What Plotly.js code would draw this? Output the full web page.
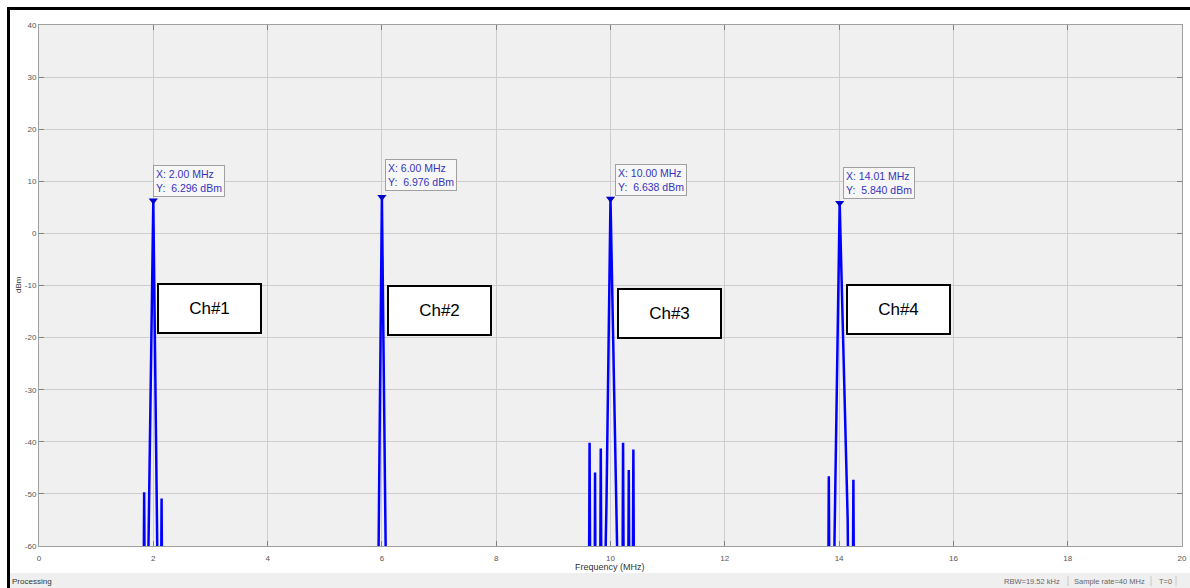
<!DOCTYPE html>
<html>
<head>
<meta charset="utf-8">
<script src="https://cdn.plot.ly/plotly-3.0.1.min.js"></script>
<style>html,body{margin:0;padding:0;background:#fff;}#chart{width:1190px;height:588px;}</style>
</head>
<body>
<div id="chart"></div>
<script>
// Spectrum samples per channel (MHz, dBm); values below -60 are clipped by the axis
const freqCh1 = [1.825, 1.84, 1.855, 1.89, 2.00, 2.09, 2.13, 2.145, 2.16];
const dbCh1   = [-80, -49.7, -80, -80, 6.296, -80, -80, -50.9, -80];
const freqCh2 = [5.925, 6.00, 6.085];
const dbCh2   = [-80, 6.976, -80];
const freqCh3 = [9.62, 9.634, 9.65, 9.72, 9.73, 9.74, 9.815, 9.83, 9.845, 9.88, 9.93, 10.00, 10.10, 10.15, 10.205, 10.22, 10.235, 10.305, 10.32, 10.335, 10.385, 10.40, 10.415];
const dbCh3   = [-80, -40.2, -80, -80, -45.9, -80, -80, -41.3, -80, -80, -51.6, 6.638, -50.3, -80, -80, -40.2, -80, -80, -45.4, -80, -80, -41.5, -80];
const freqCh4 = [13.805, 13.82, 13.835, 13.90, 13.92, 14.01, 14.15, 14.17, 14.235, 14.25, 14.265];
const dbCh4   = [-80, -46.6, -80, -80, -58.5, 5.84, -54.8, -80, -80, -47.3, -80];

// Data-tip markers
const peakFreq = [2.00, 6.00, 10.00, 14.01];
const peakDb   = [6.296, 6.976, 6.638, 5.84];
const tipX     = ["2.00", "6.00", "10.00", "14.01"];
const tipY     = ["6.296", "6.976", "6.638", "5.840"];
const tipBoxX  = [2.00, 6.05, 10.08, 14.06];
const tipBoxY  = [13.2, 14.2, 13.4, 12.7];

// Channel labels
const chLabels = ["Ch#1", "Ch#2", "Ch#3", "Ch#4"];
const chX      = [2.99, 7.01, 11.04, 15.04];
const chY      = [-14.4, -14.8, -15.4, -14.6];

// Axis ticks
const xTicks = [0, 2, 4, 6, 8, 10, 12, 14, 16, 18, 20];
const yTicks = [-60, -50, -40, -30, -20, -10, 0, 10, 20, 30, 40];

const lineStyle = {color: '#0000ff', width: 2.5};
const traces = [
  {x: freqCh1, y: dbCh1, mode: 'lines', line: lineStyle},
  {x: freqCh2, y: dbCh2, mode: 'lines', line: lineStyle},
  {x: freqCh3, y: dbCh3, mode: 'lines', line: lineStyle},
  {x: freqCh4, y: dbCh4, mode: 'lines', line: lineStyle},
  {x: peakFreq, y: peakDb, mode: 'markers',
   marker: {symbol: 'triangle-down', size: 8, color: '#0000cc'}}
];

const px2x = p => (p - 39) / 1143;
const py2y = p => (546 - p) / 521;
const FONT = 'Liberation Sans, Arial';

const annotations = [];
for (let i = 0; i < peakFreq.length; i++) {
  annotations.push({
    x: tipBoxX[i], y: tipBoxY[i], xref: 'x', yref: 'y',
    xanchor: 'left', yanchor: 'top', showarrow: false, align: 'left',
    text: 'X: ' + tipX[i] + ' MHz<br>Y:  ' + tipY[i] + ' dBm',
    font: {family: FONT, size: 10.5, color: '#3535c0'},
    bgcolor: '#f7f7f7', bordercolor: '#a0a0a0', borderwidth: 1, borderpad: 2
  });
}
for (let i = 0; i < chLabels.length; i++) {
  annotations.push({
    x: chX[i], y: chY[i], xref: 'x', yref: 'y',
    xanchor: 'center', yanchor: 'middle', showarrow: false,
    text: chLabels[i], width: 101, height: 47,
    font: {family: FONT, size: 17, color: '#000'},
    bgcolor: '#ffffff', bordercolor: '#000000', borderwidth: 2, borderpad: 0
  });
}
function paperText(px, py, text, size, color, xanchor, angle) {
  annotations.push({x: px2x(px), y: py2y(py), xref: 'paper', yref: 'paper', showarrow: false,
    xanchor: xanchor, yanchor: 'middle', text: text, textangle: angle || 0,
    font: {family: FONT, size: size, color: color}});
}
paperText(18, 285, 'dBm', 8, '#333', 'center', -90);
paperText(610, 567, 'Frequency (MHz)', 9, '#333', 'center');
paperText(10, 581, 'Processing', 8, '#333', 'left');
paperText(1002, 581, 'RBW=19.52 kHz', 7.5, '#666', 'left');
paperText(1072, 581, 'Sample rate=40 MHz', 7.5, '#666', 'left');
paperText(1157, 581, 'T=0', 7.5, '#666', 'left');

const shapes = [
  // status bar
  {type: 'rect', xref: 'paper', yref: 'paper', x0: px2x(9), x1: px2x(1192), y0: py2y(573), y1: py2y(590),
   fillcolor: '#efefef', line: {width: 0}, layer: 'below'},
  {type: 'line', xref: 'paper', yref: 'paper', x0: px2x(1068), x1: px2x(1068), y0: py2y(576), y1: py2y(586), line: {color: '#c8c8c8', width: 1}},
  {type: 'line', xref: 'paper', yref: 'paper', x0: px2x(1151), x1: px2x(1151), y0: py2y(576), y1: py2y(586), line: {color: '#c8c8c8', width: 1}},
  {type: 'line', xref: 'paper', yref: 'paper', x0: px2x(1176), x1: px2x(1176), y0: py2y(576), y1: py2y(586), line: {color: '#c8c8c8', width: 1}},
  // black frame
  {type: 'line', xref: 'paper', yref: 'paper', x0: px2x(7), x1: px2x(1192), y0: py2y(8.5), y1: py2y(8.5), line: {color: '#000', width: 3}},
  {type: 'line', xref: 'paper', yref: 'paper', x0: px2x(8.5), x1: px2x(8.5), y0: py2y(7), y1: py2y(590), line: {color: '#000', width: 3}}
];

const axisCommon = {
  showgrid: true, gridcolor: '#cdcdcd', gridwidth: 1, zeroline: false,
  showline: true, linecolor: '#a0a0a0', linewidth: 1, mirror: 'ticks',
  ticks: 'inside', ticklen: 5, tickcolor: '#808080',
  tickfont: {family: FONT, size: 8, color: '#555'}
};

const layout = {
  width: 1190, height: 588,
  margin: {l: 39, r: 8, t: 25, b: 42},
  paper_bgcolor: '#ffffff', plot_bgcolor: '#f0f0f0',
  showlegend: false, hovermode: false,
  xaxis: Object.assign({range: [0, 20], tickvals: xTicks, ticktext: xTicks.map(String), ticklabelstandoff: 4}, axisCommon),
  yaxis: Object.assign({range: [-60, 40], tickvals: yTicks, ticktext: yTicks.map(String)}, axisCommon),
  annotations: annotations,
  shapes: shapes
};

Plotly.newPlot('chart', traces, layout, {displayModeBar: false, staticPlot: true});
</script>
</body>
</html>
